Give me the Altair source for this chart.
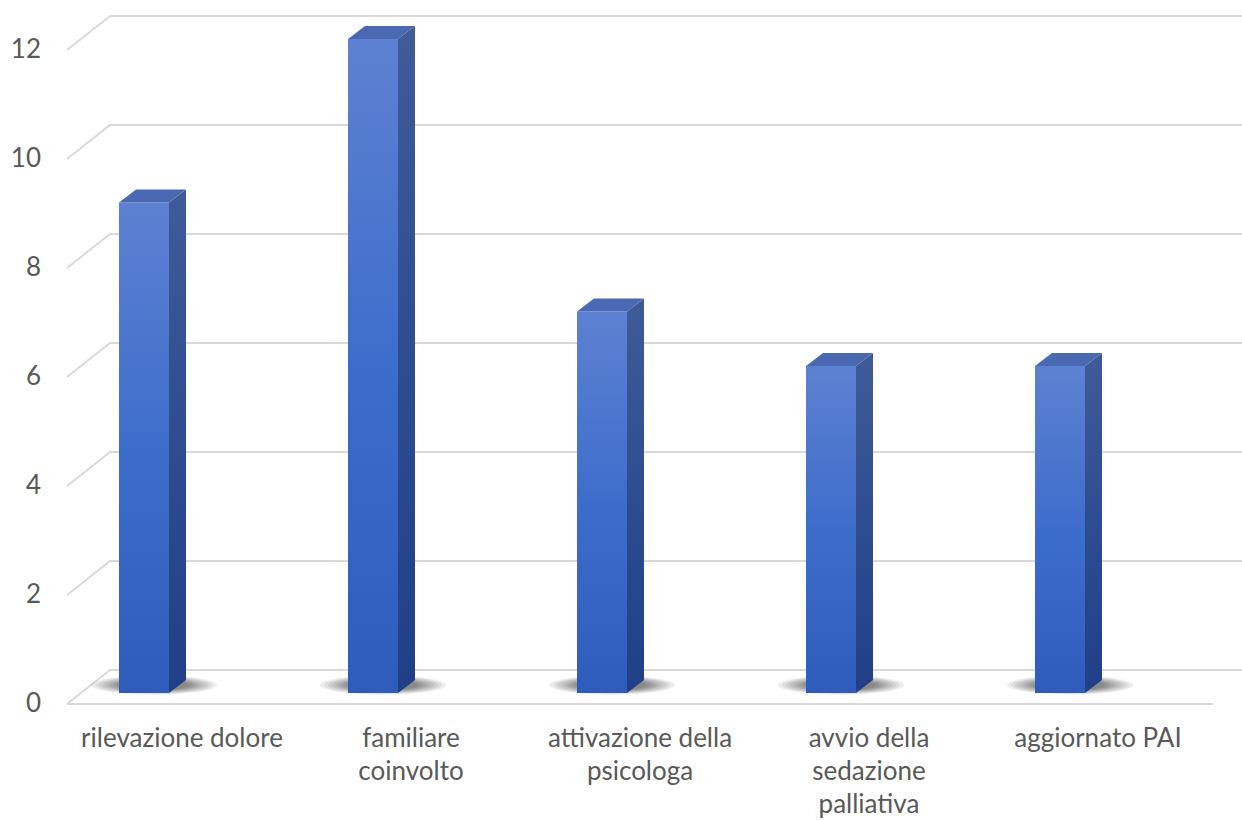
import altair as alt
import pandas as pd

# ---------------- data ----------------
categories = [
    "rilevazione dolore",
    "familiare coinvolto",
    "attivazione della psicologa",
    "avvio della sedazione palliativa",
    "aggiornato PAI",
]
label_lines = [
    ["rilevazione dolore"],
    ["familiare", "coinvolto"],
    ["attivazione della", "psicologa"],
    ["avvio della", "sedazione", "palliativa"],
    ["aggiornato PAI"],
]
values = [9, 12, 7, 6, 6]
y_ticks = [0, 2, 4, 6, 8, 10, 12]

# ---------------- layout (pixels) ----------------
W, H = 1242, 820
CAT_STEP_PX = 229      # distance between category centres
FIRST_CAT_PX = 144     # centre of first bar front face
PX_PER_VAL = 54.5
ZERO_PX = 693          # bar base (front)
BAR_W_PX = 50
DEPTH_X_PX = 17
DEPTH_Y_PX = 13
FLOOR_FRONT_PX = 11    # floor front edge below bar base
FLOOR_BACK_PX = 23     # back wall above bar base
WALL_LEFT_FRONT_PX = 67
WALL_LEFT_BACK_PX = 110
FLOOR_RIGHT_PX = 1213
TICK_LABEL_RIGHT_PX = 41
CAT_LABEL_DX_PX = 38
CAT_LABEL_Y_PX = 739
LINE_H_PX = 33
FONT = "Lato"
FONT_SIZE = 26
TEXT_COLOR = "#595959"
GRID_COLOR = "#D9D9D9"


def ux(px):
    return (px - FIRST_CAT_PX) / CAT_STEP_PX


def dux(dpx):
    return dpx / CAT_STEP_PX


def duy(dpx):
    return dpx / PX_PER_VAL


x_scale = alt.Scale(domain=[ux(0), ux(W)], nice=False, zero=False)
y_scale = alt.Scale(domain=[-duy(H - ZERO_PX), duy(ZERO_PX)], nice=False, zero=False)

HW = dux(BAR_W_PX / 2)
DX = dux(DEPTH_X_PX)
DY = duy(DEPTH_Y_PX)

# ---------------- tables ----------------
front_rows, side_rows, top_rows, shadow_rows = [], [], [], []
for i, (c, v) in enumerate(zip(categories, values)):
    front_rows.append({"cat": c, "x": i - HW, "x2": i + HW, "lo": 0, "hi": v})
    side_rows += [
        {"cat": c, "x": i + HW, "lo": 0, "hi": v},
        {"cat": c, "x": i + HW + DX, "lo": DY, "hi": v + DY},
    ]
    top_rows += [
        {"cat": c, "x": i - HW, "lo": v, "hi": v},
        {"cat": c, "x": i - HW + DX, "lo": v, "hi": v + DY},
        {"cat": c, "x": i + HW, "lo": v, "hi": v + DY},
        {"cat": c, "x": i + HW + DX, "lo": v + DY, "hi": v + DY},
    ]
    for ring, w in enumerate([126, 118, 110, 102, 94, 88, 82, 76, 70]):
        shadow_rows.append({"cat": c, "ring": ring, "x": i + dux(10), "y": duy(8), "s": w * w})

front_df = pd.DataFrame(front_rows)
side_df = pd.DataFrame(side_rows)
top_df = pd.DataFrame(top_rows)
shadow_df = pd.DataFrame(shadow_rows)

grid_rows = []
for g in y_ticks:
    grid_rows += [
        {"g": str(g), "k": 0, "x": ux(WALL_LEFT_FRONT_PX), "y": g - duy(FLOOR_FRONT_PX)},
        {"g": str(g), "k": 1, "x": ux(WALL_LEFT_BACK_PX), "y": g + duy(FLOOR_BACK_PX)},
        {"g": str(g), "k": 2, "x": ux(W), "y": g + duy(FLOOR_BACK_PX)},
    ]
grid_rows += [
    {"g": "floor", "k": 0, "x": ux(WALL_LEFT_FRONT_PX), "y": -duy(FLOOR_FRONT_PX)},
    {"g": "floor", "k": 1, "x": ux(FLOOR_RIGHT_PX), "y": -duy(FLOOR_FRONT_PX)},
]
grid_df = pd.DataFrame(grid_rows)

tick_df = pd.DataFrame({
    "t": [str(t) for t in y_ticks],
    "x": [ux(TICK_LABEL_RIGHT_PX)] * len(y_ticks),
    "y": [t - duy(FLOOR_FRONT_PX) for t in y_ticks],
})

lab_rows = []
for i, lines in enumerate(label_lines):
    for j, line in enumerate(lines):
        lab_rows.append({
            "t": line,
            "x": i + dux(CAT_LABEL_DX_PX),
            "y": -duy(CAT_LABEL_Y_PX - ZERO_PX + j * LINE_H_PX),
        })
lab_df = pd.DataFrame(lab_rows)

# ---------------- layers ----------------
X = lambda f: alt.X(f, type="quantitative", scale=x_scale, axis=None)
Y = lambda f: alt.Y(f, type="quantitative", scale=y_scale, axis=None)

grid = alt.Chart(grid_df).mark_line(color=GRID_COLOR, strokeWidth=2).encode(
    x=X("x"), y=Y("y"), detail="g:N", order="k:Q"
)

k = 0.15
c = 0.5523
ellipse = (
    f"M -1 0 C -1 {-c*k} {-c} {-k} 0 {-k} C {c} {-k} 1 {-c*k} 1 0 "
    f"C 1 {c*k} {c} {k} 0 {k} C {-c} {k} -1 {c*k} -1 0 Z"
)
shadow = alt.Chart(shadow_df).mark_point(
    shape=ellipse, filled=True, color="#2a2a2a", opacity=0.08, strokeWidth=0
).encode(x=X("x"), y=Y("y"), size=alt.Size("s:Q", scale=None, legend=None), detail="ring:N")

front_grad = alt.Gradient(
    gradient="linear",
    stops=[
        alt.GradientStop(color="#5D81D2", offset=0),
        alt.GradientStop(color="#3D6DCB", offset=0.5),
        alt.GradientStop(color="#2E5CBA", offset=1),
    ],
    x1=0, x2=0, y1=0, y2=1,
)
side_grad = alt.Gradient(
    gradient="linear",
    stops=[
        alt.GradientStop(color="#3F5B98", offset=0),
        alt.GradientStop(color="#2E4C90", offset=0.5),
        alt.GradientStop(color="#203F86", offset=1),
    ],
    x1=0, x2=0, y1=0, y2=1,
)

front = alt.Chart(front_df).mark_rect(color=front_grad).encode(
    x=X("x"), x2="x2", y=Y("lo"), y2="hi"
)
side = alt.Chart(side_df).mark_area(color=side_grad).encode(
    x=X("x"), y=Y("lo"), y2="hi", detail="cat:N"
)
top = alt.Chart(top_df).mark_area(color="#4A69B2").encode(
    x=X("x"), y=Y("lo"), y2="hi", detail="cat:N"
)

ticks = alt.Chart(tick_df).mark_text(
    align="right", baseline="middle", font=FONT, fontSize=FONT_SIZE, color=TEXT_COLOR
).encode(x=X("x"), y=Y("y"), text="t:N")

labels = alt.Chart(lab_df).mark_text(
    align="center", baseline="middle", font=FONT, fontSize=FONT_SIZE, color=TEXT_COLOR
).encode(x=X("x"), y=Y("y"), text="t:N")

chart = (
    alt.layer(grid, shadow, front, side, top, ticks, labels)
    .properties(width=W, height=H, padding=0, autosize=alt.AutoSizeParams(type="none"), background="white")
    .configure_view(stroke=None)
)

chart.save("out.html", embed_options={"renderer": "svg", "actions": False})
